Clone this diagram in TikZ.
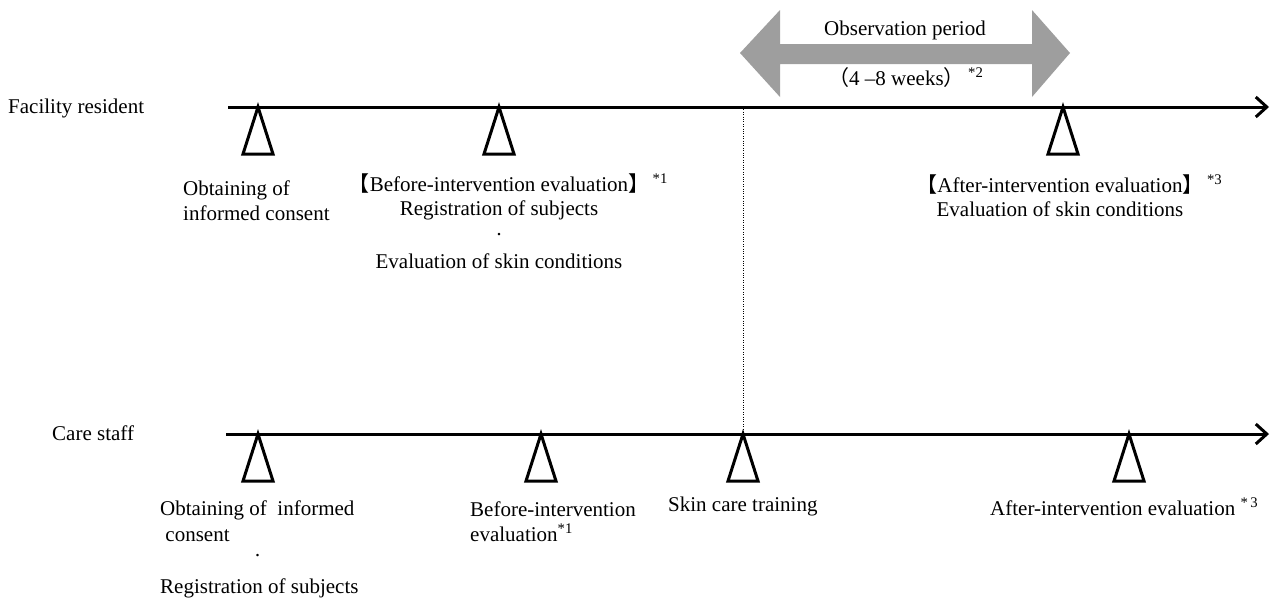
\documentclass[tikz,border=0pt]{standalone}
\usepackage{fontspec}
\setmainfont{Liberation Serif}
\newfontfamily\cjk{Noto Sans CJK JP}
\definecolor{periodgray}{RGB}{158,158,158}
\usetikzlibrary{arrows.meta}

\begin{document}
\begin{tikzpicture}[x=1pt,y=-1pt,
  lbl/.style={inner sep=0,font=\fontsize{21}{25}\selectfont},
  axis/.style={line width=3pt,-{Straight Barb[length=11pt,width=20pt,line width=3pt]}},
  tri/.style={line width=3pt}]
  \useasboundingbox (0,0) rectangle (1271,598);
  \fill[periodgray] (740,53) -- (780,10) -- (780,44) -- (1032,44) -- (1032,10)
    -- (1070,53) -- (1032,97) -- (1032,64) -- (780,64) -- (780,97) -- cycle;
  \node[lbl,anchor=base] (obs) at (905,35) {Observation period};
  \node[lbl,anchor=base west] (weeks) at (828,85) {{\cjk （}4 --8 weeks{\cjk ）}\,\textsuperscript{*2}};
  \node[lbl,anchor=base west] (res) at (8,113) {Facility resident};
  \node[lbl,anchor=base west] (staff) at (52,440) {Care staff};
  \coordinate (r0) at (228,107);
  \coordinate (r1) at (1269,107);
  \coordinate (s0) at (226,434);
  \coordinate (s1) at (1269,434);
  \coordinate (split) at (743,107);
  \coordinate (train) at (743,434);
  \draw[axis] (r0) -- (r1);
  \draw[axis] (s0) -- (s1);
  \draw[dotted,thin] (split) -- (train);
  \foreach \x/\y in {258/107,499/107,1063/107,258/434,541/434,743/434,1129/434}
    \draw[tri] (\x,\y) -- ++(-15,47) -- ++(30,0) -- cycle;
  \node[lbl,anchor=base west,align=left] (ic1) at (183,220) {Obtaining of\\informed consent};
  \node[lbl,anchor=base,align=center] (pre1) at (499,268)
    {{\cjk 【}Before-intervention evaluation{\cjk 】}\rlap{\,\textsuperscript{*1}}\\[-1pt]
     Registration of subjects\\[1pt] \textperiodcentered\\[2pt] Evaluation of skin conditions};
  \node[lbl,anchor=base,align=center] (post1) at (1060,216)
    {{\cjk 【}After-intervention evaluation{\cjk 】}\rlap{\,\textsuperscript{*3}}\\[-1pt]
     Evaluation of skin conditions};
  \node[lbl,anchor=base west,align=left] (ic2) at (160,593)
    {Obtaining of \ informed\\[1pt] \ consent\\[-4pt] \hspace*{94pt}\textperiodcentered\\[6pt] Registration of subjects};
  \node[lbl,anchor=base west,align=left] (pre2) at (470,541) {Before-intervention\\evaluation\textsuperscript{*1}};
  \node[lbl,anchor=base west] (skin) at (668,511) {Skin care training};
  \node[lbl,anchor=base west] (post2) at (990,515) {After-intervention evaluation \textsuperscript{*\,3}};
\end{tikzpicture}
\end{document}
